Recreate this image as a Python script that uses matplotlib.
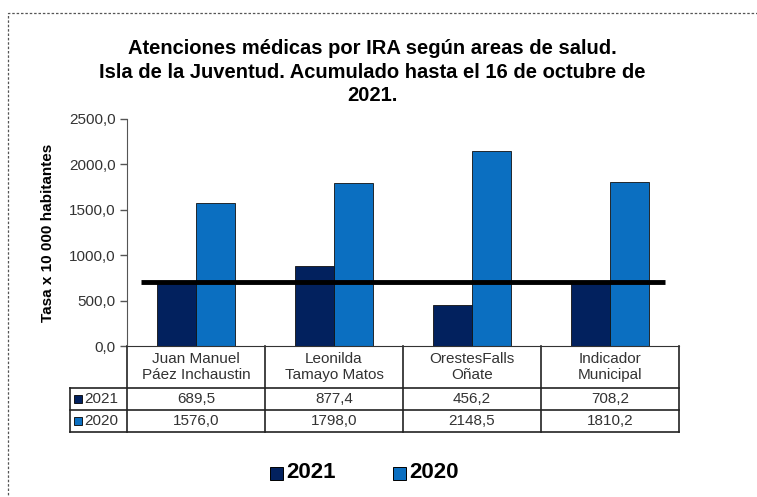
import matplotlib
matplotlib.use("Agg")
import matplotlib.pyplot as plt
from matplotlib.patches import Rectangle
import numpy as np

plt.rcParams['font.family'] = ['Liberation Sans', 'DejaVu Sans']

# datos
areas = ['Juan Manuel\nPáez Inchaustin', 'Leonilda\nTamayo Matos',
         'OrestesFalls\nOñate', 'Indicador\nMunicipal']
serie_2021 = [689.5, 877.4, 456.2, 708.2]
serie_2020 = [1576.0, 1798.0, 2148.5, 1810.2]
indicador = 708.2
y_ticks = [0, 500, 1000, 1500, 2000, 2500]

c2021 = '#02215e'
c2020 = '#0b6fc1'
gris = '#333333'

W, H = 757, 497
fig = plt.figure(figsize=(W / 100, H / 100), dpi=100)

# borde punteado del recuadro
fig.patches.append(Rectangle((8 / W, -0.1), 1.2, 1 - 13 / H + 0.1,
                             transform=fig.transFigure, fill=False,
                             ec='#555555', lw=0.9, ls=(0, (2, 1.5))))

ax = fig.add_axes([127 / W, 1 - 346 / H, 552 / W, 227 / H])
x = np.arange(len(areas))
bw = 0.28
ax.bar(x - bw / 2, serie_2021, bw, color=c2021, edgecolor='#111111', lw=0.6)
ax.bar(x + bw / 2, serie_2020, bw, color=c2020, edgecolor='#111111', lw=0.6)
ax.plot([-0.4, 3.4], [indicador, indicador], color='black', lw=3.5, solid_capstyle='butt')

ax.set_xlim(-0.5, 3.5)
ax.set_ylim(0, 2500)
ax.set_yticks(y_ticks)
ax.set_yticklabels([f'{v:.1f}'.replace('.', ',') for v in y_ticks],
                   fontsize=11, color=gris)
ax.tick_params(axis='y', direction='out', length=5, width=1, color='#555555', pad=3)
ax.set_xticks([])
for s in ['top', 'right']:
    ax.spines[s].set_visible(False)
ax.spines['left'].set_color('#555555')
ax.spines['bottom'].set_color('#333333')
ax.set_ylabel('Tasa x 10 000 habitantes', fontsize=11, fontweight='bold', labelpad=10)

# tabla de datos
ph = 227.0
pw = 552.0
r0, r1, r2, r3 = 0, -42 / ph, -64 / ph, -86 / ph
xl = -57 / pw
kw = dict(transform=ax.transAxes, color='#222222', lw=1.2, clip_on=False)
ax.plot([xl, 1], [r1, r1], **kw)
ax.plot([xl, 1], [r2, r2], **kw)
ax.plot([xl, 1], [r3, r3], **kw)
ax.plot([xl, xl], [r1, r3], **kw)
ax.plot([1, 1], [r0, r3], **kw)
for i in range(4):
    ax.plot([i / 4, i / 4], [r0, r3], **kw)

for i, a in enumerate(areas):
    xc = (i + 0.5) / 4
    ax.text(xc, (r0 + r1) / 2, a, transform=ax.transAxes, ha='center', va='center',
            fontsize=11, color=gris, linespacing=1.1)
    ax.text(xc, (r1 + r2) / 2, f'{serie_2021[i]:.1f}'.replace('.', ','),
            transform=ax.transAxes, ha='center', va='center', fontsize=11, color=gris)
    ax.text(xc, (r2 + r3) / 2, f'{serie_2020[i]:.1f}'.replace('.', ','),
            transform=ax.transAxes, ha='center', va='center', fontsize=11, color=gris)

for yy, lab, col in [((r1 + r2) / 2, '2021', c2021), ((r2 + r3) / 2, '2020', c2020)]:
    ax.add_patch(Rectangle((xl + 4 / pw, yy - 4 / ph), 8 / pw, 8 / ph, transform=ax.transAxes,
                           facecolor=col, edgecolor='black', lw=0.6, clip_on=False))
    ax.text(xl + 14 / pw, yy, lab, transform=ax.transAxes, ha='left', va='center',
            fontsize=11, color=gris)

# titulo
fig.text(372 / W, 1 - 72 / H,
         'Atenciones médicas por IRA según areas de salud.\n'
         'Isla de la Juventud. Acumulado hasta el 16 de octubre de\n2021.',
         ha='center', va='center', fontsize=14.5, fontweight='bold', linespacing=1.3)

# leyenda inferior
for x0, lab, col in [(270, '2021', c2021), (393, '2020', c2020)]:
    fig.patches.append(Rectangle((x0 / W, 1 - 480 / H), 13 / W, 13 / H,
                                 transform=fig.transFigure, facecolor=col,
                                 edgecolor='black', lw=0.7))
    fig.text((x0 + 16) / W, 1 - 473 / H, lab, ha='left', va='center',
             fontsize=16, fontweight='bold')

fig.savefig('out.png', dpi=100)
